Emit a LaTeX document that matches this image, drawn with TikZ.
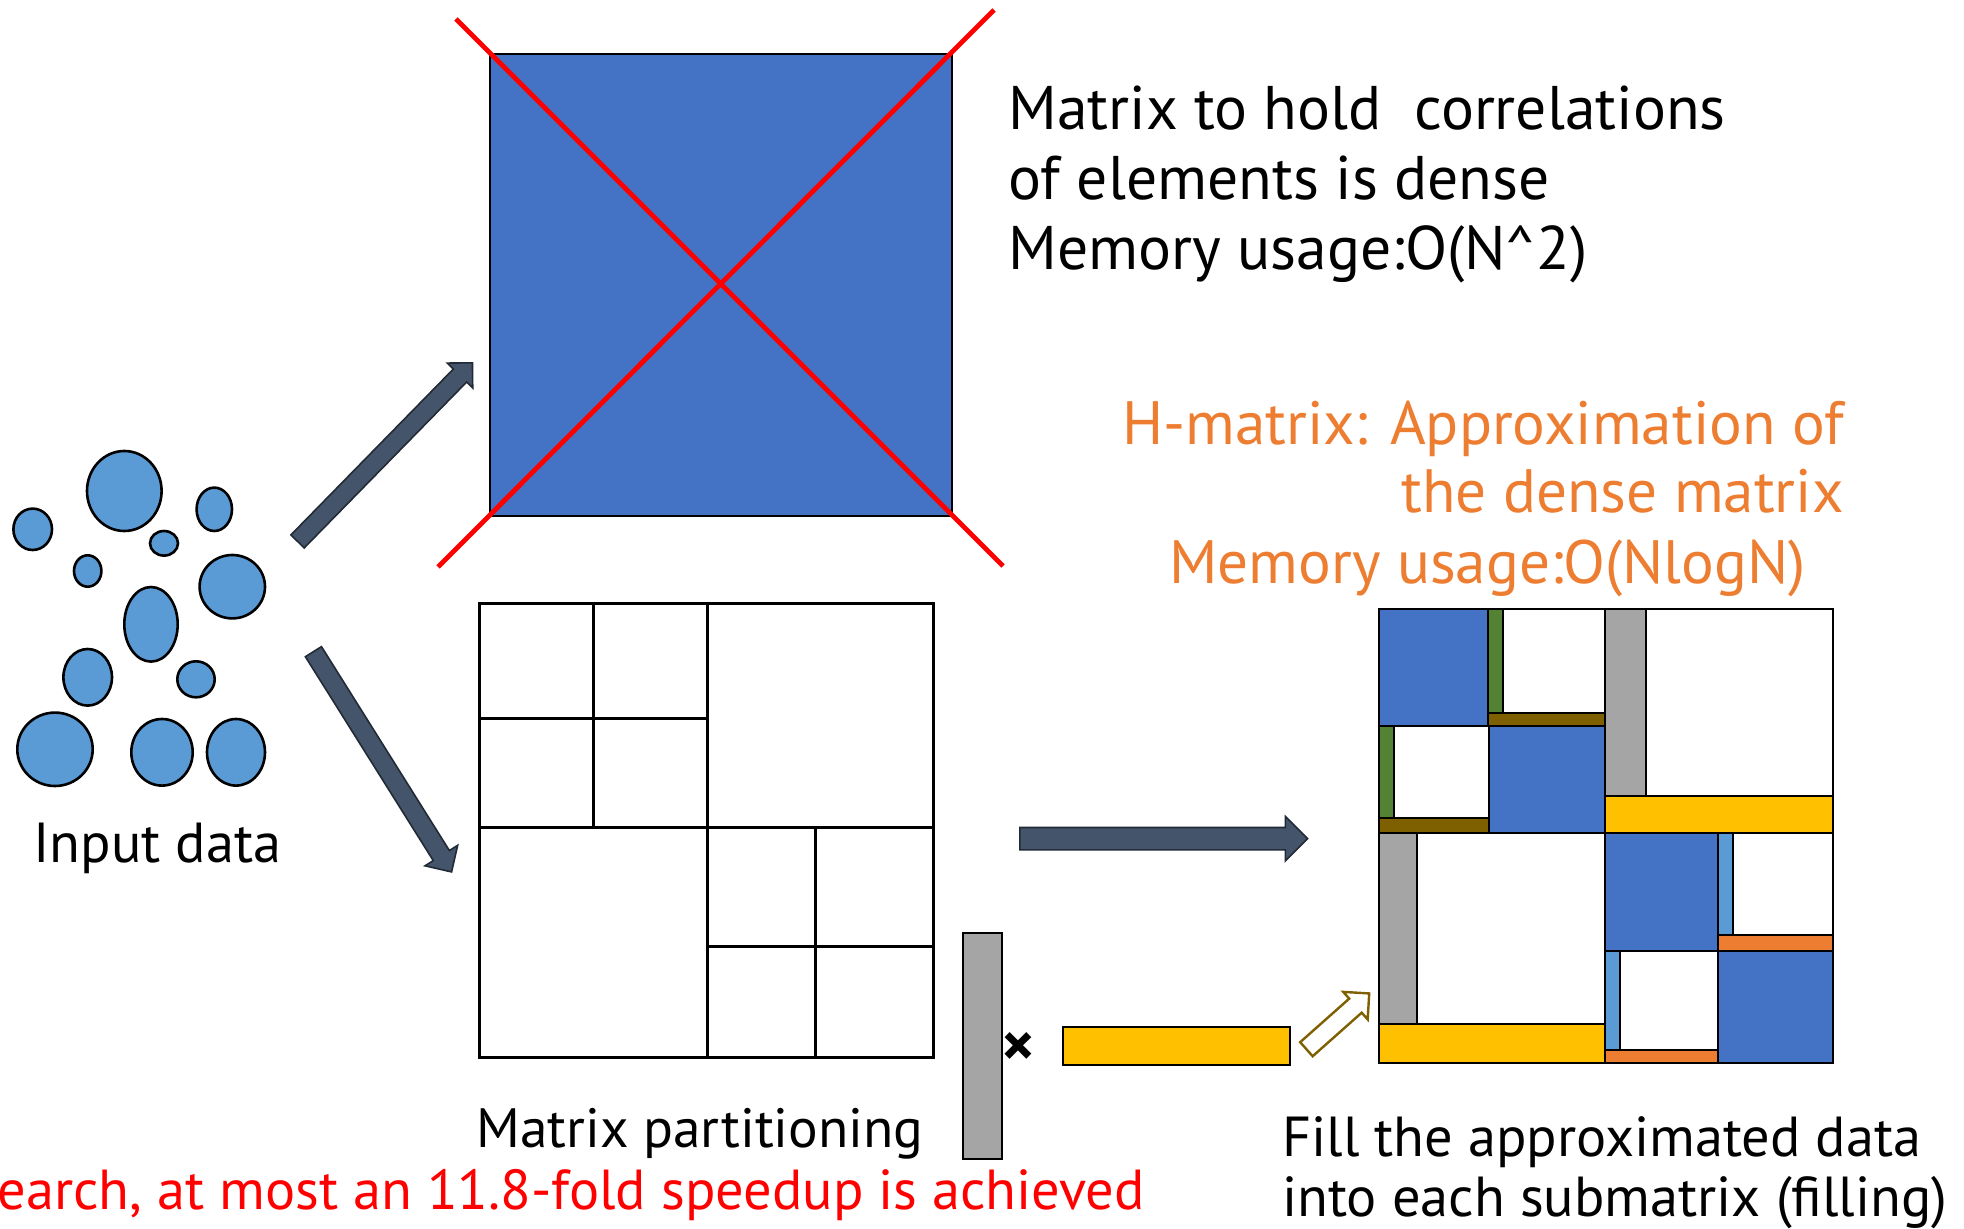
\documentclass[tikz,border=0pt]{standalone}
\usepackage{fontspec}
\setmainfont{PT Sans}
\usetikzlibrary{shapes.arrows}
\definecolor{mblue}{HTML}{4472C4}
\definecolor{lblue}{HTML}{5B9BD5}
\definecolor{mgreen}{HTML}{548235}
\definecolor{mbrown}{HTML}{7F6000}
\definecolor{mgray}{HTML}{A5A5A5}
\definecolor{myellow}{HTML}{FFC000}
\definecolor{morange}{HTML}{ED7D31}
\definecolor{slate}{HTML}{44546A}
\definecolor{slateline}{HTML}{222A35}
\begin{document}
\begin{tikzpicture}[x=0.5pt,y=-0.5pt,
  dot/.style={draw=black,line width=1.3pt,fill=lblue},
  blk/.style={draw=black,line width=1.5pt},
  hm/.style={draw=black,line width=1.3pt},
  txt/.style={inner sep=0pt,anchor=base west,font=\fontsize{28.2}{34}\selectfont},
  bigtxt/.style={inner sep=0pt,anchor=base west,font=\fontsize{30.8}{36}\selectfont},
  otxt/.style={inner sep=0pt,anchor=base east,text=morange,font=\fontsize{30.6}{36}\selectfont},
  barrow/.style={single arrow,draw=slateline,fill=slate,line width=0.8pt,inner xsep=0pt,minimum width=0pt,anchor=tail},
  harrow/.style={single arrow,draw=mbrown,fill=white,line width=1.2pt,inner xsep=0pt,minimum width=0pt,anchor=tail},
]
\useasboundingbox (0,0) rectangle (1964,1229);

% input data
\foreach \cx/\cy/\rx/\ry in {32.7/529.3/19.3/20.7, 124.3/491/37.3/40, 214.3/509.3/17.7/21.7,
  164/543.3/14/12.3, 87.7/571/13.7/15.7, 232.3/586.7/32.7/31.7, 151/624.3/26.7/37.3,
  87.7/677.3/24.3/28.3, 196/679.3/18.7/18, 55/749.3/37.7/36.7, 162/752.3/30.7/33.3, 236/752.3/29/33.3}
  \draw[dot] (\cx,\cy) ellipse [x radius=\rx, y radius=\ry];
\node[txt] (input) at (33,862) {Input data};

% dense matrix
\node[draw=black,line width=0.8pt,fill=mblue,minimum width=231pt,minimum height=231pt,inner sep=0pt] (dense) at (721,285) {};
\draw[red,line width=2.4pt] (456,19) -- (1003,566);
\draw[red,line width=2.4pt] (438,567) -- (994,10);
\node[bigtxt] (t1) at (1008,130) {Matrix to hold\ \ correlations};
\node[bigtxt] (t2) at (1008,200) {of elements is dense};
\node[bigtxt] (t3) at (1008,270) {Memory usage:O(N\textasciicircum 2)};

% partition matrix
\node[minimum width=227pt,minimum height=227pt,inner sep=0pt] (part) at (706,830) {};
\draw[blk] (479,603) rectangle (933,1057);
\draw[blk] (707,603) -- (707,1057);
\draw[blk] (479,827) -- (933,827);
\draw[blk] (593,603) -- (593,827);
\draw[blk] (479,718) -- (707,718);
\draw[blk] (815,827) -- (815,1057);
\draw[blk] (707,946) -- (933,946);
\node[txt,font=\fontsize{27.7}{34}\selectfont] (plabel) at (476,1147) {Matrix partitioning};
\node[txt,text=red] (red) at (-3,1209) {earch, at most an 11.8-fold speedup is achieved};

% low rank factors
\draw[draw=black,line width=1pt,fill=mgray] (963,933) rectangle (1002,1159);
\node[inner sep=0pt,font=\fontsize{32}{36}\selectfont\bfseries] (times) at (1018,1050) {×};
\draw[draw=black,line width=1.2pt,fill=myellow] (1063,1027) rectangle (1290,1065);

% H-matrix
\node[minimum width=227pt,minimum height=227pt,inner sep=0pt] (hmat) at (1606,836) {};
\draw[hm,fill=white] (1379,609) rectangle (1833,1063);
\draw[hm,fill=mblue] (1379,609) rectangle (1488,726);
\draw[hm,fill=mgreen] (1488,609) rectangle (1503,713);
\draw[hm,fill=white] (1503,609) rectangle (1605,713);
\draw[hm,fill=mbrown] (1488,713) rectangle (1605,726);
\draw[hm,fill=mgreen] (1379,726) rectangle (1394,818);
\draw[hm,fill=white] (1394,726) rectangle (1489,818);
\draw[hm,fill=mbrown] (1379,818) rectangle (1489,833);
\draw[hm,fill=mblue] (1489,726) rectangle (1605,833);
\draw[hm,fill=mgray] (1605,609) rectangle (1646,796);
\draw[hm,fill=white] (1646,609) rectangle (1833,796);
\draw[hm,fill=myellow] (1605,796) rectangle (1833,833);
\draw[hm,fill=mgray] (1379,833) rectangle (1417,1024);
\draw[hm,fill=white] (1417,833) rectangle (1605,1024);
\draw[hm,fill=myellow] (1379,1024) rectangle (1605,1063);
\draw[hm,fill=mblue] (1605,833) rectangle (1718,951);
\draw[hm,fill=lblue] (1718,833) rectangle (1733,935);
\draw[hm,fill=white] (1733,833) rectangle (1833,935);
\draw[hm,fill=morange] (1718,935) rectangle (1833,951);
\draw[hm,fill=lblue] (1605,951) rectangle (1620,1050);
\draw[hm,fill=white] (1620,951) rectangle (1718,1050);
\draw[hm,fill=morange] (1605,1050) rectangle (1718,1063);
\draw[hm,fill=mblue] (1718,951) rectangle (1833,1063);

\node[otxt] (o1) at (1844,445) {H-matrix: Approximation of};
\node[otxt] (o2) at (1844,513) {the dense matrix};
\node[otxt] (o3) at (1806,583) {Memory usage:O(NlogN)};
\node[txt] (f1) at (1282,1156) {Fill the approximated data};
\node[txt] (f2) at (1282,1216) {into each submatrix (filling)};

% arrows
\coordinate (a1) at (297,542);
\coordinate (a2) at (313,651);
\coordinate (a3) at (1019,838.7);
\coordinate (a4) at (1305.5,1050);
\node[barrow,rotate=45.6,minimum height=125pt,inner ysep=4.25pt,single arrow head extend=4.25pt] (arrA) at (a1) {};
\node[barrow,rotate=-57.9,minimum height=130pt,inner ysep=4.35pt,single arrow head extend=4.9pt] (arrB) at (a2) {};
\node[barrow,minimum height=143.9pt,inner ysep=5.2pt,single arrow head extend=5.5pt] (arrC) at (a3) {};
\node[harrow,rotate=41.6,minimum height=42pt,inner ysep=4.1pt,single arrow head extend=4.5pt] (arrD) at (a4) {};
\end{tikzpicture}
\end{document}
